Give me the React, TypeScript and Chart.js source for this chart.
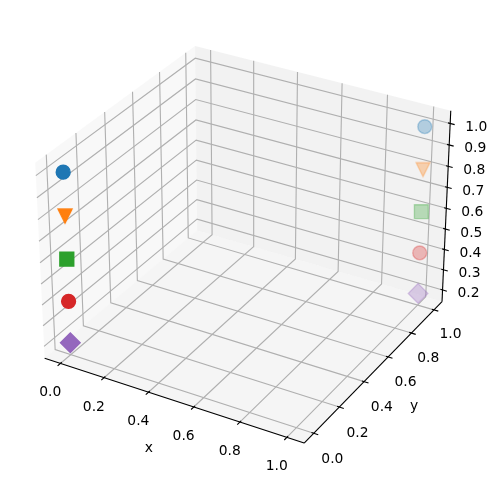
import React, { useEffect, useRef } from 'react';
import { Chart, registerables } from 'chart.js';

Chart.register(...registerables);

const zValues = [1.0, 0.8, 0.6, 0.4, 0.2];
const frontX = [0, 0, 0, 0, 0];
const frontY = [0, 0, 0, 0, 0];
const backX = [1, 1, 1, 1, 1];
const backY = [1, 1, 1, 1, 1];
const seriesRgb = ['31,119,180', '255,127,14', '44,160,44', '214,39,40', '148,103,189'];
const seriesMarkers = ['circle', 'triangleDown', 'rect', 'circle', 'rectRot'];
const frontAlpha = 1;
const backAlpha = 0.3;

const xTicks = [0, 0.2, 0.4, 0.6, 0.8, 1.0];
const yTicks = [0, 0.2, 0.4, 0.6, 0.8, 1.0];
const zTicks = [0.2, 0.3, 0.4, 0.5, 0.6, 0.7, 0.8, 0.9, 1.0];

const W = 497;
const H = 484;
const DPI_SCALE = 100 / 72;
const MARKER = 10 * DPI_SCALE; // s=100
const EDGE = 1 * DPI_SCALE;
const FONT = `${10 * DPI_SCALE}px "DejaVu Sans"`;

// same limits as the original axes: 5% margin plus the 3d 1/48 one
const xLim = [-0.0729, 1.0729];
const yLim = [-0.0729, 1.0729];
const zLim = [0.1417, 1.0583];

// view: elev 30, azim -60, box aspect 4:4:3
const K = 462 / 0.185;
const X0 = 247;
const Y0 = 235;
const boxScale = (1.8294640721620434 * 25) / 24 / Math.sqrt(41);
const box = [4 * boxScale, 4 * boxScale, 3 * boxScale];
const el = (30 * Math.PI) / 180;
const az = (-60 * Math.PI) / 180;
const w = [Math.cos(el) * Math.cos(az), Math.cos(el) * Math.sin(az), Math.sin(el)];
const u = [-Math.sin(az), Math.cos(az), 0];
const v = [w[1] * u[2] - w[2] * u[1], w[2] * u[0] - w[0] * u[2], w[0] * u[1] - w[1] * u[0]];
const dot = (a: number[], b: number[]) => a[0] * b[0] + a[1] * b[1] + a[2] * b[2];

function project(x: number, y: number, z: number) {
  const p = [
    ((x - xLim[0]) / (xLim[1] - xLim[0]) - 0.5) * box[0],
    ((y - yLim[0]) / (yLim[1] - yLim[0]) - 0.5) * box[1],
    ((z - zLim[0]) / (zLim[1] - zLim[0]) - 0.5) * box[2],
  ];
  const d = 10 - dot(p, w);
  return { x: dot(p, u) / d, y: dot(p, v) / d };
}

function triangleDown(rgb: string, alpha: number) {
  const c = document.createElement('canvas');
  c.width = 24;
  c.height = 24;
  const ctx = c.getContext('2d')!;
  const s = MARKER / 2;
  ctx.beginPath();
  ctx.moveTo(12, 12 + s);
  ctx.lineTo(12 - s, 12 - s);
  ctx.lineTo(12 + s, 12 - s);
  ctx.closePath();
  ctx.fillStyle = `rgba(${rgb},${alpha})`;
  ctx.fill();
  ctx.lineWidth = EDGE;
  ctx.strokeStyle = `rgba(${rgb},${alpha})`;
  ctx.stroke();
  return c;
}

const markerRadius: Record<string, number> = {
  circle: MARKER / 2,
  rect: MARKER * Math.SQRT1_2,
  rectRot: MARKER * Math.SQRT1_2,
  triangleDown: 12,
};

function line(points: number[][], color: string, width: number) {
  return {
    data: points.map(p => project(p[0], p[1], p[2])),
    showLine: true,
    borderColor: color,
    borderWidth: width,
    pointRadius: 0,
    fill: false as const,
  };
}

function pane(points: number[][], color: string) {
  return {
    data: [...points, points[0]].map(p => project(p[0], p[1], p[2])),
    showLine: true,
    borderWidth: 0,
    backgroundColor: color,
    pointRadius: 0,
    fill: 'shape' as const,
  };
}

function markers(xs: number[], ys: number[], alpha: number) {
  return zValues.map((z, i) => {
    const kind = seriesMarkers[i];
    const color = `rgba(${seriesRgb[i]},${alpha})`;
    return {
      data: [project(xs[i], ys[i], z)],
      showLine: false,
      pointStyle: kind === 'triangleDown' ? triangleDown(seriesRgb[i], alpha) : kind,
      pointRadius: markerRadius[kind],
      backgroundColor: color,
      borderColor: color,
      borderWidth: EDGE,
    };
  });
}

const fmt = (t: number) => t.toFixed(1);

const axisText = {
  id: 'axisText',
  afterDraw(chart: any) {
    const { ctx, scales } = chart;
    const put = (text: string, p: { x: number; y: number }, dx: number, dy: number) => {
      ctx.fillText(text, scales.x.getPixelForValue(p.x) + dx, scales.y.getPixelForValue(p.y) + dy);
    };
    ctx.save();
    ctx.font = FONT;
    ctx.fillStyle = '#000';
    ctx.textAlign = 'center';
    ctx.textBaseline = 'alphabetic';
    // offsets go to the baseline, digits are about 5px above it
    xTicks.forEach(t => put(fmt(t), project(t, yLim[0], zLim[0]), -10.1, 33));
    yTicks.forEach(t => put(fmt(t), project(xLim[1], t, zLim[0]), 18.7 - 2.2 * t, 30.1 - 1.5 * t));
    zTicks.forEach(t => put(fmt(t), project(xLim[1], yLim[1], t), 26, 7.5));
    put('x', project(0.5, yLim[0], zLim[0]), -22, 52);
    put('y', project(xLim[1], 0.5, zLim[0]), 38, 41);
    ctx.restore();
  },
};

export default function App() {
  const canvasRef = useRef<HTMLCanvasElement>(null);
  useEffect(() => {
    const [x0, x1] = xLim;
    const [y0, y1] = yLim;
    const [z0, z1] = zLim;
    const gridColor = 'rgb(176,176,176)';
    const lineW = 0.8 * DPI_SCALE;

    const stack: any[] = [
      pane([[x0, y0, z0], [x0, y1, z0], [x0, y1, z1], [x0, y0, z1]], 'rgba(242,242,242,0.5)'),
      pane([[x0, y1, z0], [x1, y1, z0], [x1, y1, z1], [x0, y1, z1]], 'rgba(230,230,230,0.5)'),
      pane([[x0, y0, z0], [x1, y0, z0], [x1, y1, z0], [x0, y1, z0]], 'rgba(236,236,236,0.5)'),
      ...xTicks.map(t => line([[t, y0, z0], [t, y1, z0], [t, y1, z1]], gridColor, lineW)),
      ...yTicks.map(t => line([[x1, t, z0], [x0, t, z0], [x0, t, z1]], gridColor, lineW)),
      ...zTicks.map(t => line([[x0, y0, t], [x0, y1, t], [x1, y1, t]], gridColor, lineW)),
      line([[x0, y0, z0], [x1, y0, z0]], '#000', lineW),
      line([[x1, y0, z0], [x1, y1, z0]], '#000', lineW),
      line([[x1, y1, z0], [x1, y1, z1]], '#000', lineW),
      // tick marks run 0.1 delta into the box and 0.2 delta out of it
      ...xTicks.map(t => line([[t, y0 - 0.0191, z0], [t, y0 + 0.00955, z0]], '#000', lineW)),
      ...yTicks.map(t => line([[x1 + 0.0191, t, z0], [x1 - 0.00955, t, z0]], '#000', lineW)),
      ...zTicks.map(t => line([[x1 + 0.0191, y1, t], [x1 - 0.00955, y1, t]], '#000', lineW)),
      ...markers(backX, backY, backAlpha),
      ...markers(frontX, frontY, frontAlpha),
    ];
    stack.forEach((d, i) => (d.order = stack.length - i));

    const chart = new Chart(canvasRef.current!, {
      type: 'scatter',
      data: { datasets: stack },
      options: {
        responsive: false,
        animation: false,
        layout: { padding: 0, autoPadding: false },
        plugins: { legend: { display: false }, tooltip: { enabled: false } },
        scales: {
          x: { type: 'linear', display: false, min: (0 - X0) / K, max: (W - X0) / K },
          y: { type: 'linear', display: false, min: (Y0 - H) / K, max: Y0 / K },
        },
      },
      plugins: [axisText],
    });
    return () => chart.destroy();
  }, []);

  return (
    <div style={{ position: 'absolute', left: 0, top: 0, width: W, height: H }}>
      <canvas ref={canvasRef} width={W} height={H} aria-label="3D scatter of five marker series"></canvas>
    </div>
  );
}
